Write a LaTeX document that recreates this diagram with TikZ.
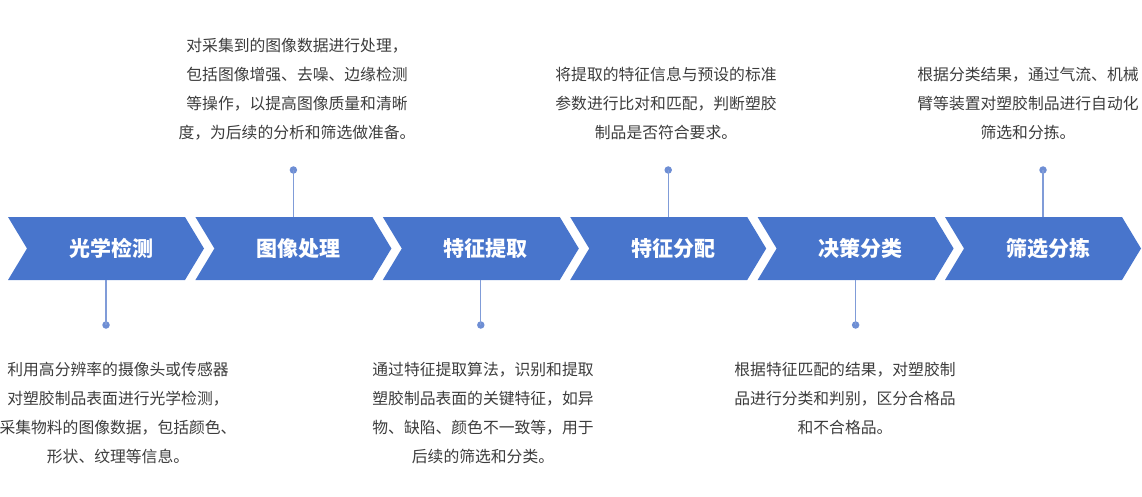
\documentclass[tikz,border=0pt]{standalone}
\usepackage{fontspec}
\setmainfont{Noto Sans CJK SC}
\usetikzlibrary{positioning}

\definecolor{chevblue}{RGB}{72,117,204}
\definecolor{stemblue}{RGB}{128,156,216}
\definecolor{dotblue}{RGB}{110,142,212}
\definecolor{notegray}{RGB}{60,60,60}

\tikzset{
  chev/.style={fill=chevblue, draw=none},
  chevlabel/.style={text=white, inner sep=0pt, font=\fontsize{21}{25}\selectfont\bfseries},
  stem/.style={draw=stemblue, line width=1.2pt},
  stemdot/.style={circle, fill=dotblue, inner sep=0pt, minimum size=7.5pt},
  note/.style={text=notegray, align=center, inner sep=0pt, font=\fontsize{15.8}{29}\selectfont},
}

\begin{document}
\begin{tikzpicture}[x=1pt,y=-1pt]
\useasboundingbox (0,0) rectangle (1142,497);

% chevrons
\foreach \i/\lab in {0/光学检测,1/图像处理,2/特征提取,3/特征分配,4/决策分类,5/筛选分拣}
{
 \pgfmathsetmacro\xo{8+187.4*\i}
 \fill[chev] (\xo,217) -- ++(177,0) -- ++(19,31.5) -- ++(-19,31.5) -- ++(-177,0) -- ++(19,-31.5) -- cycle;
 \node[chevlabel] (step\i) at (\xo+103,248.5) {\lab};
 \coordinate (top\i) at (\xo+98,217);
 \coordinate (bot\i) at (\xo+98,280);
}

% stems and dots
\foreach \i in {0,2,4}
{
 \node[stemdot] (dot\i) at ([yshift=-45pt]bot\i) {};
 \draw[stem] (bot\i) -- (dot\i.center);
}
\foreach \i in {1,3,5}
{
 \node[stemdot] (dot\i) at ([yshift=47pt]top\i) {};
 \draw[stem] (top\i) -- (dot\i.center);
}

% notes
\node[note, anchor=north] (note0) at (118,362) {利用高分辨率的摄像头或传感器\\对塑胶制品表面进行光学检测，\\采集物料的图像数据，包括颜色、\\形状、纹理等信息。};
\node[note, anchor=south] (note1) at (297,140) {对采集到的图像数据进行处理，\\包括图像增强、去噪、边缘检测\\等操作，以提高图像质量和清晰\\度，为后续的分析和筛选做准备。};
\node[note, anchor=north] (note2) at (483,362) {通过特征提取算法，识别和提取\\塑胶制品表面的关键特征，如异\\物、缺陷、颜色不一致等，用于\\后续的筛选和分类。};
\node[note, anchor=south] (note3) at (666,140) {将提取的特征信息与预设的标准\\参数进行比对和匹配，判断塑胶\\制品是否符合要求。};
\node[note, anchor=north] (note4) at (845,362) {根据特征匹配的结果，对塑胶制\\品进行分类和判别，区分合格品\\和不合格品。};
\node[note, anchor=south] (note5) at (1028,140) {根据分类结果，通过气流、机械\\臂等装置对塑胶制品进行自动化\\筛选和分拣。};

\end{tikzpicture}
\end{document}
